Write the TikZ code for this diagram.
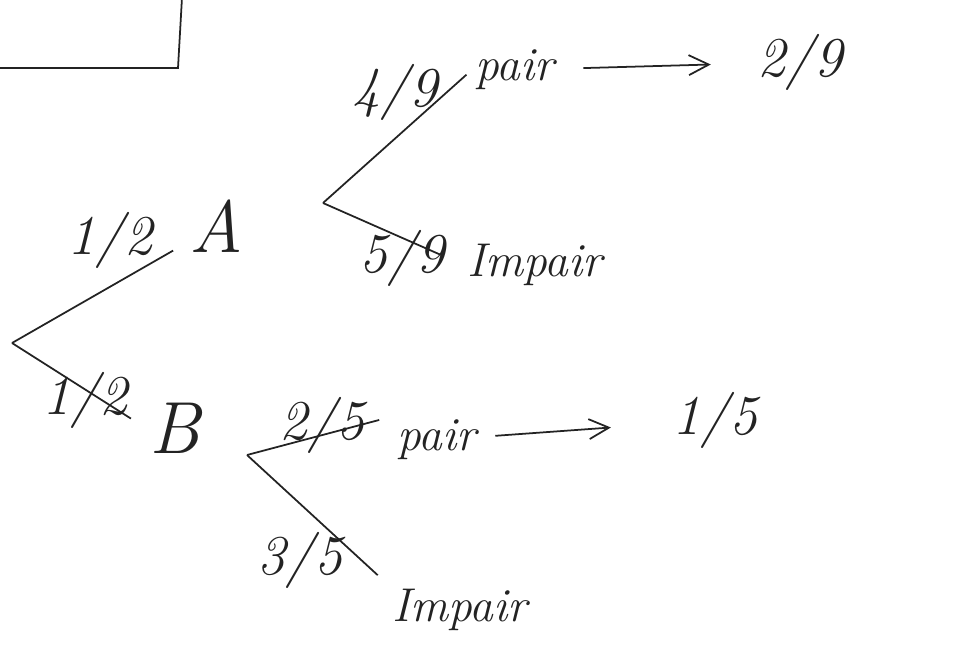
\documentclass[tikz,border=0pt]{standalone}
\usepackage{xcolor}
\usepackage{tikz}
\usetikzlibrary{arrows.meta,positioning,calc}
\definecolor{ink}{RGB}{35,35,35}
\tikzset{
  event/.style={
    inner sep=2pt,
    text=ink,
    font=\fontsize{42}{46}\selectfont\itshape
  },
  outcome/.style={
    inner sep=2pt,
    text=ink,
    font=\fontsize{27}{30}\selectfont\itshape
  },
  proba/.style={
    inner sep=1pt,
    text=ink,
    font=\fontsize{32}{36}\selectfont\itshape
  },
  branch/.style={draw=ink, line width=1pt},
  flow/.style={-{Straight Barb[length=4mm,width=4mm]}, draw=ink, line width=1pt}
}

\begin{document}
\begin{tikzpicture}[x=0.02cm,y=-0.02cm]
\useasboundingbox (0,0) rectangle (977,666);
\clip (0,0) rectangle (977,666);
% boite du haut (coupee)
\draw[branch] (-20,68) -- (178,68) -- (183,-20);
% premier niveau
\coordinate (root) at (12,343);
\node[event] (A) at (216,226) {A};
\node[event] (B) at (175,428) {B};
\draw[branch, shorten >=8pt] (root) -- (A);
\draw[branch, shorten >=10pt] (root) -- (B.west);
\node[proba] at (110,240) {1/2};
\node[proba] at (85,400) {1/2};
% branche A
\coordinate (a0) at (323,203);
\node[outcome] (pair1) at (515,70) {pair};
\node[outcome] (imp1) at (535,265) {Impair};
\node[proba] (p1) at (800,62) {2/9};
\draw[branch, shorten >=4pt] (a0) -- (pair1.west);
\draw[branch, shorten >=0.5cm] (a0) -- (imp1.west);
\node[proba] at (395,92) {4/9};
\node[proba] at (402,258) {5/9};
\draw[flow, shorten <=0.5cm, shorten >=0.9cm] (pair1) -- (p1);
% branche B
\coordinate (b0) at (247,455);
\node[outcome] (pair2) at (437,440) {pair};
\node[outcome] (imp2) at (460,610) {Impair};
\node[proba] (p2) at (715,420) {1/5};
\draw[branch, shorten >=0.3cm] (b0) -- (pair2.north west);
\draw[branch, shorten >=0.3cm] (b0) -- (imp2.north west);
\node[proba] at (322,425) {2/5};
\node[proba] at (300,560) {3/5};
\draw[flow, shorten <=0.3cm, shorten >=1.2cm] (pair2) -- (p2);
\end{tikzpicture}
\end{document}
